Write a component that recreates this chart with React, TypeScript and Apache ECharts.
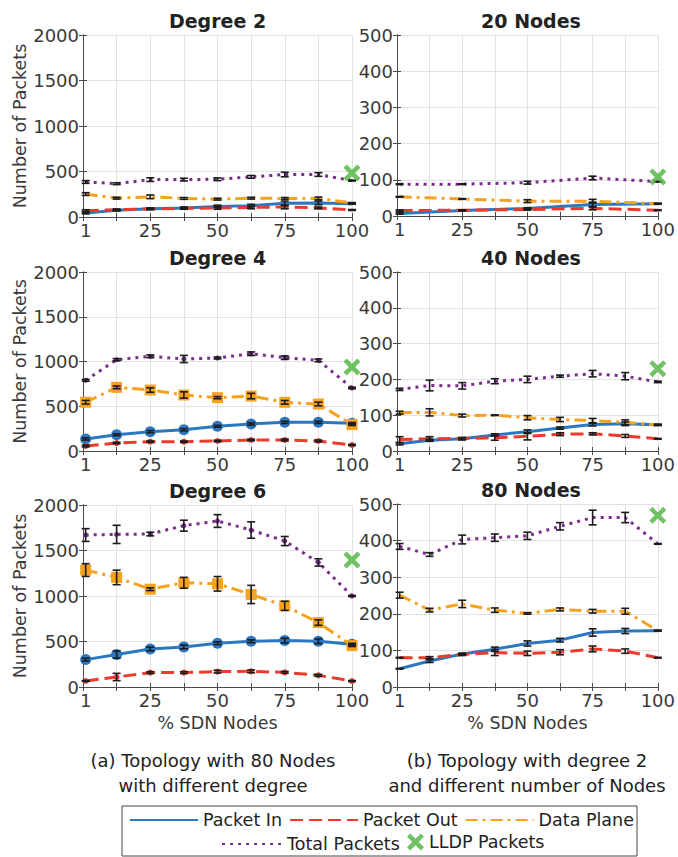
import React, { useEffect, useRef } from "react";
import * as echarts from "echarts";

// ---------- data ----------
const X9 = [1, 12.5, 25, 37.5, 50, 62.5, 75, 87.5, 100];
const X5 = [1, 25, 50, 75, 100];
const X_TICK_LABELS = [1, 25, 50, 75, 100];

const PANEL_TITLES = ["Degree 2", "20 Nodes", "Degree 4", "40 Nodes", "Degree 6", "80 Nodes"];
const SERIES_NAMES = ["Packet In", "Packet Out", "Data Plane", "Total Packets"];
const LLDP_NAME = "LLDP Packets";

// Degree 2 (80 nodes)
const DEG2_IN = [45, 75, 90, 100, 115, 125, 150, 155, 145];
const DEG2_OUT = [70, 80, 90, 95, 100, 105, 110, 100, 77];
const DEG2_DP = [252, 207, 222, 204, 196, 207, 204, 204, 154];
const DEG2_TOTAL = [385, 366, 411, 411, 415, 441, 467, 467, 400];
const DEG2_LLDP = 484;
const DEG2_IN_ERR = [10, 8, 8, 10, 15, 15, 25, 20, 5];
const DEG2_OUT_ERR = [10, 8, 8, 10, 15, 15, 20, 10, 5];
const DEG2_DP_ERR = [15, 10, 20, 10, 10, 10, 10, 15, 5];
const DEG2_TOTAL_ERR = [15, 10, 20, 15, 15, 15, 25, 20, 5];

// 20 Nodes (degree 2)
const N20_IN = [7, 15, 21, 32, 34];
const N20_OUT = [15, 16, 18, 21, 16];
const N20_DP = [53, 47, 41, 41, 34];
const N20_TOTAL = [88, 88, 92, 105, 95];
const N20_LLDP = 108;
const N20_IN_ERR = [2, 1, 2, 6, 1];
const N20_OUT_ERR = [2, 1, 2, 4, 1];
const N20_DP_ERR = [1, 1, 4, 5, 1];
const N20_TOTAL_ERR = [1, 1, 4, 5, 1];

// Degree 4 (80 nodes)
const DEG4_IN = [134, 182, 216, 238, 276, 302, 320, 320, 310];
const DEG4_OUT = [56, 89, 104, 104, 112, 123, 123, 112, 67];
const DEG4_DP = [545, 711, 681, 626, 596, 614, 544, 525, 295];
const DEG4_TOTAL = [790, 1020, 1058, 1028, 1039, 1087, 1043, 1013, 704];
const DEG4_LLDP = 938;
const DEG4_IN_ERR = [12, 10, 12, 12, 10, 12, 12, 12, 8];
const DEG4_OUT_ERR = [10, 8, 8, 8, 8, 8, 10, 10, 6];
const DEG4_DP_ERR = [20, 15, 25, 35, 12, 30, 20, 20, 10];
const DEG4_TOTAL_ERR = [10, 12, 15, 40, 10, 20, 20, 15, 8];

// 40 Nodes (degree 2)
const N40_IN = [20, 30, 34, 45, 54, 64, 74, 76, 73];
const N40_OUT = [32, 34, 35, 37, 41, 47, 48, 42, 34];
const N40_DP = [107, 108, 99, 100, 93, 88, 85, 80, 73];
const N40_TOTAL = [172, 183, 182, 195, 200, 209, 216, 209, 193];
const N40_LLDP = 230;
const N40_IN_ERR = [3, 3, 3, 3, 5, 3, 4, 5, 2];
const N40_OUT_ERR = [8, 6, 3, 7, 10, 4, 3, 4, 1];
const N40_DP_ERR = [4, 10, 4, 1, 6, 6, 6, 7, 1];
const N40_TOTAL_ERR = [3, 15, 9, 7, 9, 3, 9, 10, 2];

// Degree 6 (80 nodes)
const DEG6_IN = [301, 356, 418, 440, 481, 503, 510, 503, 470];
const DEG6_OUT = [66, 110, 158, 158, 169, 172, 161, 128, 65];
const DEG6_DP = [1285, 1204, 1075, 1145, 1134, 1017, 892, 708, 455];
const DEG6_TOTAL = [1670, 1677, 1681, 1773, 1824, 1725, 1604, 1369, 1000];
const DEG6_LLDP = 1396;
const DEG6_IN_ERR = [15, 40, 20, 20, 15, 15, 25, 25, 10];
const DEG6_OUT_ERR = [5, 40, 10, 10, 15, 15, 10, 10, 5];
const DEG6_DP_ERR = [70, 80, 15, 60, 80, 100, 50, 30, 10];
const DEG6_TOTAL_ERR = [70, 100, 20, 60, 70, 90, 50, 40, 5];

// 80 Nodes (degree 2)
const N80_IN = [50, 71, 90, 103, 119, 128, 149, 153, 154];
const N80_OUT = [80, 80, 89, 94, 92, 95, 104, 98, 80];
const N80_DP = [251, 210, 227, 210, 201, 212, 207, 207, 154];
const N80_TOTAL = [384, 362, 403, 408, 413, 439, 463, 463, 391];
const N80_LLDP = 469;
const N80_IN_ERR = [1, 4, 2, 6, 7, 5, 10, 7, 1];
const N80_OUT_ERR = [1, 3, 3, 8, 6, 7, 8, 6, 1];
const N80_DP_ERR = [8, 5, 10, 6, 2, 4, 5, 8, 1];
const N80_TOTAL_ERR = [8, 5, 12, 10, 10, 10, 20, 14, 1];

const Y_MAX_LEFT = 2000;
const Y_STEP_LEFT = 500;
const Y_MAX_RIGHT = 500;
const Y_STEP_RIGHT = 100;

// ---------- styling ----------
const FONT = '"DejaVu Sans", sans-serif';
const AXIS_COLOR = "#4a4a4a";
const TEXT_COLOR = "#3a3a3a";
const GRID_COLOR = "#e2e2e2";
const COLORS = ["#2b78c1", "#ec3a2c", "#f6a21c", "#7b2d8e"];
const LLDP_COLOR = "#4cb43c";
const DASHES: any[] = ["solid", [13, 6], [12, 5, 3, 5], [3, 5]];
const MARKERS: [string, number][] = [
  ["circle", 11],
  ["circle", 6],
  ["rect", 11],
  ["circle", 5],
];
const X_SYMBOL =
  "path://M0,3 L3,0 L8,5 L13,0 L16,3 L11,8 L16,13 L13,16 L8,11 L3,16 L0,13 L5,8 Z";

const GRID_POS = [
  { left: 83, top: 35, width: 269, height: 182 },
  { left: 397, top: 35, width: 268, height: 181 },
  { left: 83, top: 272, width: 269, height: 179 },
  { left: 397, top: 272, width: 268, height: 179 },
  { left: 83, top: 505, width: 269, height: 182 },
  { left: 397, top: 504, width: 268, height: 183 },
];

const PANELS = [
  { xs: X9, vals: [DEG2_IN, DEG2_OUT, DEG2_DP, DEG2_TOTAL], errs: [DEG2_IN_ERR, DEG2_OUT_ERR, DEG2_DP_ERR, DEG2_TOTAL_ERR], lldp: DEG2_LLDP, markers: false },
  { xs: X5, vals: [N20_IN, N20_OUT, N20_DP, N20_TOTAL], errs: [N20_IN_ERR, N20_OUT_ERR, N20_DP_ERR, N20_TOTAL_ERR], lldp: N20_LLDP, markers: false },
  { xs: X9, vals: [DEG4_IN, DEG4_OUT, DEG4_DP, DEG4_TOTAL], errs: [DEG4_IN_ERR, DEG4_OUT_ERR, DEG4_DP_ERR, DEG4_TOTAL_ERR], lldp: DEG4_LLDP, markers: true },
  { xs: X9, vals: [N40_IN, N40_OUT, N40_DP, N40_TOTAL], errs: [N40_IN_ERR, N40_OUT_ERR, N40_DP_ERR, N40_TOTAL_ERR], lldp: N40_LLDP, markers: false },
  { xs: X9, vals: [DEG6_IN, DEG6_OUT, DEG6_DP, DEG6_TOTAL], errs: [DEG6_IN_ERR, DEG6_OUT_ERR, DEG6_DP_ERR, DEG6_TOTAL_ERR], lldp: DEG6_LLDP, markers: true },
  { xs: X9, vals: [N80_IN, N80_OUT, N80_DP, N80_TOTAL], errs: [N80_IN_ERR, N80_OUT_ERR, N80_DP_ERR, N80_TOTAL_ERR], lldp: N80_LLDP, markers: false },
];

const errRender = (_params: any, api: any) => {
  const x = api.value(0);
  const y = api.value(1);
  const e = api.value(2);
  const p1 = api.coord([x, y + e]);
  const p2 = api.coord([x, y - e]);
  const w = 4;
  const st = { stroke: "#1c1c1c", lineWidth: 1.6 };
  return {
    type: "group",
    children: [
      { type: "line", shape: { x1: p1[0], y1: p1[1], x2: p2[0], y2: p2[1] }, style: st },
      { type: "line", shape: { x1: p1[0] - w, y1: p1[1], x2: p1[0] + w, y2: p1[1] }, style: st },
      { type: "line", shape: { x1: p2[0] - w, y1: p2[1], x2: p2[0] + w, y2: p2[1] }, style: st },
    ],
  };
};

function buildOption() {
  const grid: any[] = [];
  const xAxis: any[] = [];
  const yAxis: any[] = [];
  const series: any[] = [];
  const graphic: any[] = [];

  PANELS.forEach((p, i) => {
    const g = GRID_POS[i];
    grid.push({ ...g, containLabel: false });
    const isLeft = i % 2 === 0;
    const isBottom = i >= 4;
    const yMax = isLeft ? Y_MAX_LEFT : Y_MAX_RIGHT;
    const yStep = isLeft ? Y_STEP_LEFT : Y_STEP_RIGHT;

    xAxis.push({
      gridIndex: i,
      type: "value",
      min: 0,
      max: 100,
      interval: 12.5,
      axisLine: { show: true, lineStyle: { color: AXIS_COLOR, width: 1 } },
      axisTick: { show: true, inside: true, length: 4, lineStyle: { color: AXIS_COLOR } },
      axisLabel: {
        show: true,
        customValues: X_TICK_LABELS,
        formatter: (v: number) => String(v),
        fontSize: 18,
        fontFamily: FONT,
        color: TEXT_COLOR,
        margin: 4,
      },
      splitLine: { show: true, lineStyle: { color: GRID_COLOR, width: 1 } },
      name: isBottom ? "% SDN Nodes" : "",
      nameLocation: "middle",
      nameGap: 27,
      nameTextStyle: { fontSize: 17.5, fontFamily: FONT, color: TEXT_COLOR },
    });
    xAxis.push({
      gridIndex: i,
      type: "value",
      position: "top",
      min: 0,
      max: 100,
      interval: 12.5,
      axisLine: { show: true, lineStyle: { color: AXIS_COLOR, width: 1 } },
      axisTick: { show: true, inside: true, length: 4, lineStyle: { color: AXIS_COLOR } },
      axisLabel: { show: false },
      splitLine: { show: false },
    });
    yAxis.push({
      gridIndex: i,
      type: "value",
      min: 0,
      max: yMax,
      interval: yStep,
      axisLine: { show: true, lineStyle: { color: AXIS_COLOR, width: 1 } },
      axisTick: { show: true, inside: true, length: 4, lineStyle: { color: AXIS_COLOR } },
      axisLabel: {
        fontSize: 18,
        fontFamily: FONT,
        color: TEXT_COLOR,
        margin: 4,
        formatter: (v: number) => String(v),
      },
      splitLine: { show: true, lineStyle: { color: GRID_COLOR, width: 1 } },
      name: isLeft ? "Number of Packets" : "",
      nameLocation: "middle",
      nameGap: 53,
      nameTextStyle: { fontSize: 17.5, fontFamily: FONT, color: TEXT_COLOR },
    });
    yAxis.push({
      gridIndex: i,
      type: "value",
      position: "right",
      min: 0,
      max: yMax,
      interval: yStep,
      axisLine: { show: true, lineStyle: { color: AXIS_COLOR, width: 1 } },
      axisTick: { show: true, inside: true, length: 4, lineStyle: { color: AXIS_COLOR } },
      axisLabel: { show: false },
      splitLine: { show: false },
    });

    const xi = 2 * i;
    const yi = 2 * i;
    SERIES_NAMES.forEach((name, k) => {
      series.push({
        type: "line",
        name,
        xAxisIndex: xi,
        yAxisIndex: yi,
        data: p.xs.map((x, j) => [x, p.vals[k][j]]),
        symbol: p.markers ? MARKERS[k][0] : "none",
        symbolSize: MARKERS[k][1],
        showSymbol: p.markers,
        lineStyle: { color: COLORS[k], width: 3, type: DASHES[k], cap: "butt" },
        itemStyle: { color: COLORS[k], borderWidth: 0 },
        z: 3,
        silent: true,
      });
    });
    SERIES_NAMES.forEach((_name, k) => {
      series.push({
        type: "custom",
        xAxisIndex: xi,
        yAxisIndex: yi,
        renderItem: errRender,
        data: p.xs.map((x, j) => [x, p.vals[k][j], p.errs[k][j]]),
        encode: { x: 0, y: 1 },
        z: 5,
        silent: true,
      });
    });
    series.push({
      type: "scatter",
      name: LLDP_NAME,
      xAxisIndex: xi,
      yAxisIndex: yi,
      data: [[100, p.lldp]],
      symbol: X_SYMBOL,
      symbolSize: 17,
      itemStyle: { color: LLDP_COLOR },
      z: 8,
      silent: true,
    });

    graphic.push({
      type: "text",
      x: g.left + g.width / 2,
      y: g.top - 14,
      style: {
        text: PANEL_TITLES[i],
        fontSize: 19,
        fontWeight: "bold",
        fontFamily: FONT,
        fill: "#222",
        textAlign: "center",
        textVerticalAlign: "middle",
      },
    });
  });

  const captionStyle = (text: string) => ({
    text,
    fontSize: 18,
    fontFamily: FONT,
    fill: "#222",
    textAlign: "center",
    textVerticalAlign: "middle",
  });
  graphic.push({ type: "text", x: 213, y: 760, style: captionStyle("(a) Topology with 80 Nodes") });
  graphic.push({ type: "text", x: 213, y: 785, style: captionStyle("with different degree") });
  graphic.push({ type: "text", x: 527, y: 760, style: captionStyle("(b) Topology with degree 2") });
  graphic.push({ type: "text", x: 527, y: 785, style: captionStyle("and different number of Nodes") });
  graphic.push({
    type: "rect",
    shape: { x: 122, y: 806, width: 515, height: 50 },
    style: { fill: "#fff", stroke: "#444", lineWidth: 1 },
    z: -1,
  });

  const legendText = { fontSize: 17.5, fontFamily: FONT, color: "#222" };
  const legend = [
    {
      data: ["Packet In", "Packet Out", "Data Plane"],
      left: 129,
      top: 811,
      itemWidth: 68,
      itemHeight: 14,
      itemGap: 7,
      padding: 0,
      selectedMode: false,
      itemStyle: { opacity: 0 },
      textStyle: legendText,
    },
    {
      data: ["Total Packets"],
      left: 221,
      top: 835,
      itemWidth: 60,
      itemHeight: 14,
      padding: 0,
      selectedMode: false,
      itemStyle: { opacity: 0 },
      textStyle: legendText,
    },
    {
      data: [LLDP_NAME],
      left: 407,
      top: 833,
      itemWidth: 17,
      itemHeight: 17,
      padding: 0,
      selectedMode: false,
      textStyle: legendText,
    },
  ];

  return {
    animation: false,
    backgroundColor: "#fff",
    grid,
    xAxis,
    yAxis,
    series,
    legend,
    graphic: { elements: graphic },
  };
}

export default function App() {
  const ref = useRef<HTMLDivElement>(null);
  useEffect(() => {
    if (!ref.current) return;
    const chart = echarts.init(ref.current, undefined, { renderer: "svg" });
    chart.setOption(buildOption() as any);
    return () => chart.dispose();
  }, []);
  return (
    <div
      ref={ref}
      style={{ position: "fixed", left: 0, top: 0, width: 678, height: 857, background: "#fff" }}
    />
  );
}
